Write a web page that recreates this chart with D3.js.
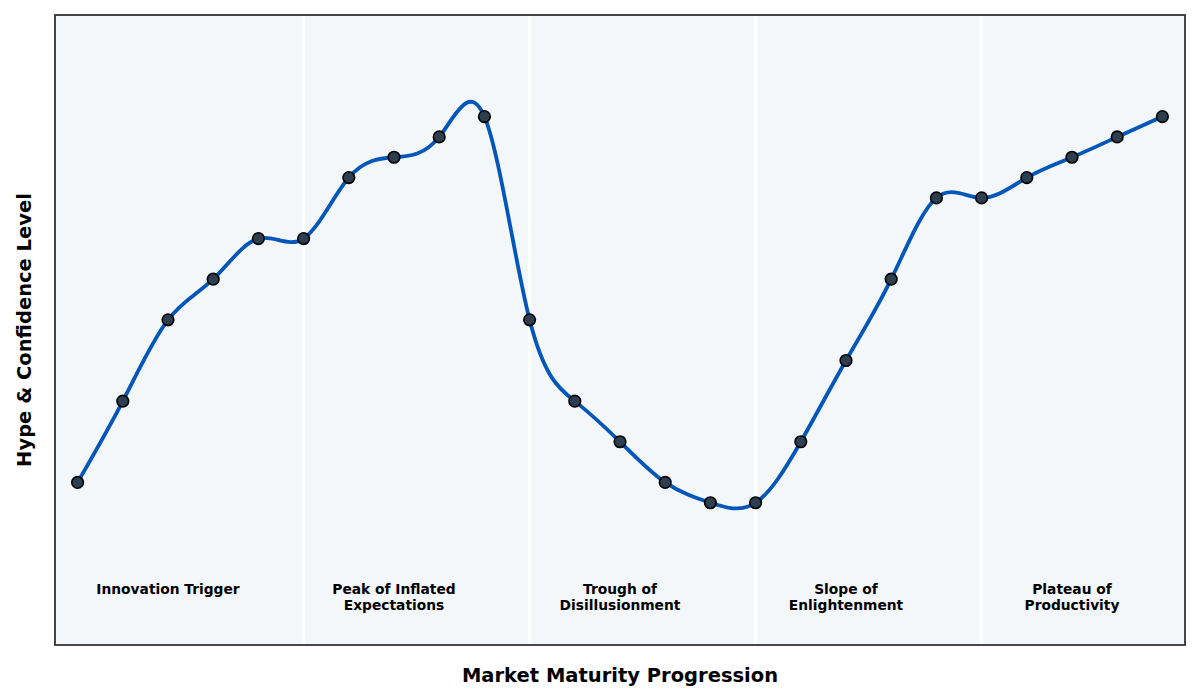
<!DOCTYPE html>
<html>
<head>
<meta charset="utf-8">
<script src="https://cdn.jsdelivr.net/npm/d3@7"></script>
<style>
  body { margin: 0; background: #fff; }
  svg { display: block; font-family: "DejaVu Sans", sans-serif; }
</style>
</head>
<body>
<svg id="svg" width="1200" height="700"></svg>
<script>
// hype cycle readings, one per step along the x axis
const steps = d3.range(25);
const hype = [10, 30, 50, 60, 70, 70, 85, 90, 95, 100,
              50, 30, 20, 10, 5, 5, 20, 40, 60, 80,
              80, 85, 90, 95, 100];
const phaseBreaks = [5, 10, 15, 20];
const phaseCenters = [2, 7, 12, 17, 22];
const phaseLabels = [
    ["Innovation Trigger"],
    ["Peak of Inflated", "Expectations"],
    ["Trough of", "Disillusionment"],
    ["Slope of", "Enlightenment"],
    ["Plateau of", "Productivity"]
];
const labelLevel = -17.5;

const margin = { top: 15, right: 15, bottom: 55, left: 55 };
const width = 1200, height = 700;
const svg = d3.select("#svg");

const x = d3.scaleLinear().domain([-0.5, 24.5]).range([margin.left, width - margin.right]);
const y = d3.scaleLinear().domain([-30, 125]).range([height - margin.bottom, margin.top]);

// plot background
svg.append("rect")
    .attr("x", x(-0.5)).attr("y", y(125))
    .attr("width", x(24.5) - x(-0.5)).attr("height", y(-30) - y(125))
    .attr("fill", "#f4f7fa");

// phase separators
svg.selectAll(".sep").data(phaseBreaks).enter()
    .append("line")
    .attr("x1", d => x(d)).attr("x2", d => x(d))
    .attr("y1", y(125)).attr("y2", y(-30))
    .attr("stroke", "#ffffff").attr("stroke-width", 3);

// phase labels
phaseLabels.forEach((lines, i) => {
    const t = svg.append("text")
        .attr("x", x(phaseCenters[i]))
        .attr("y", y(labelLevel))
        .attr("text-anchor", "middle")
        .attr("font-size", 13.8)
        .attr("font-weight", "bold")
        .attr("fill", "#000");
    lines.forEach((s, j) => {
        t.append("tspan").attr("x", x(phaseCenters[i])).attr("dy", j == 0 ? 0 : 16).text(s);
    });
});

// curve
const lineGenerator = d3.line()
    .x((d, i) => x(steps[i]))
    .y(d => y(d))
    .curve(d3.curveNatural);
svg.append("path")
    .attr("d", lineGenerator(hype))
    .attr("fill", "none")
    .attr("stroke", "#0057b8")
    .attr("stroke-width", 3.8);

// markers
svg.selectAll(".pt").data(hype).enter()
    .append("circle")
    .attr("cx", (d, i) => x(steps[i]))
    .attr("cy", d => y(d))
    .attr("r", 5.8)
    .attr("fill", "#2c3e50")
    .attr("stroke", "#000")
    .attr("stroke-width", 1.6);

// frame
svg.append("rect")
    .attr("x", x(-0.5)).attr("y", y(125))
    .attr("width", x(24.5) - x(-0.5)).attr("height", y(-30) - y(125))
    .attr("fill", "none")
    .attr("stroke", "#333")
    .attr("stroke-width", 1.8);

// axis titles
svg.append("text")
    .attr("x", (x(-0.5) + x(24.5)) / 2)
    .attr("y", 682)
    .attr("text-anchor", "middle")
    .attr("font-size", 19.5)
    .attr("font-weight", "bold")
    .text("Market Maturity Progression");
svg.append("text")
    .attr("transform", "translate(31," + (y(-30) + y(125)) / 2 + ") rotate(-90)")
    .attr("text-anchor", "middle")
    .attr("font-size", 19.5)
    .attr("font-weight", "bold")
    .text("Hype & Confidence Level");
</script>
</body>
</html>
